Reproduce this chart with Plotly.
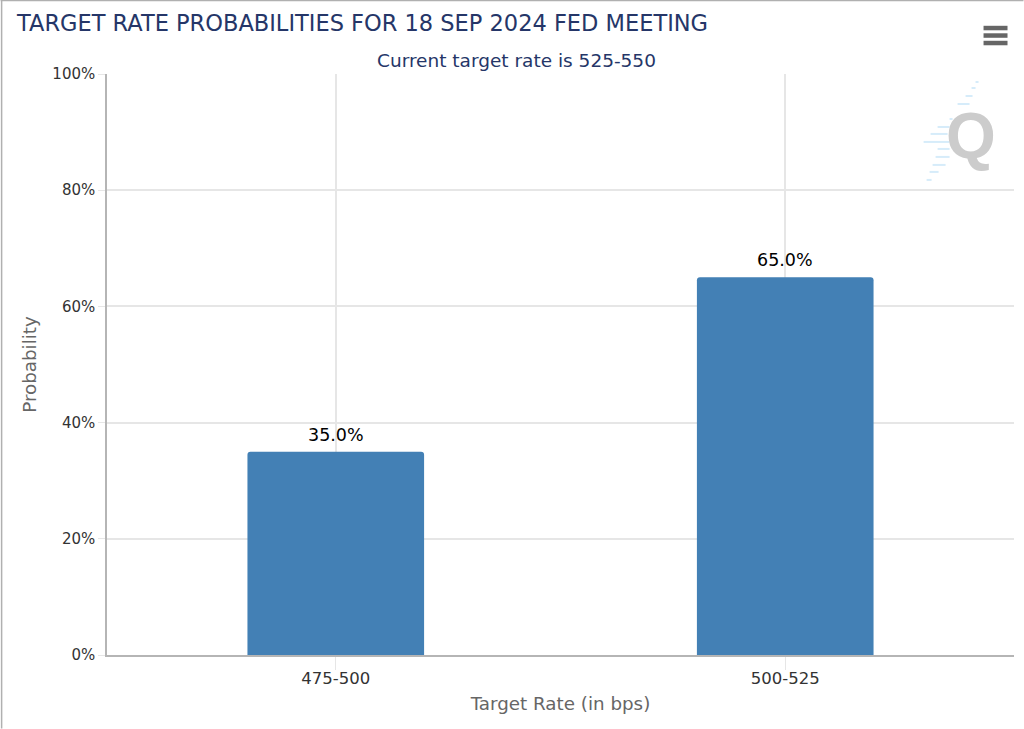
import plotly.graph_objects as go

categories = ['475-500', '500-525']
probabilities = [35.0, 65.0]
y_ticks = [0, 20, 40, 60, 80, 100]
y_tick_labels = ['0%', '20%', '40%', '60%', '80%', '100%']

W, H = 1024, 729
L, R, T, B = 106.5, 1014.5, 74, 655.5
FONT = 'DejaVu Sans'
GRID = '#E6E6E6'
AXIS = '#B5B5B5'


def px(x):
    return (x - L) / (R - L)


def py(y):
    return (B - y) / (B - T)


fig = go.Figure()

fig.add_trace(go.Bar(
    x=categories,
    y=probabilities,
    width=0.393,
    marker=dict(color='#4380B5', line=dict(width=0), cornerradius=3),
    hoverinfo='x+y',
    showlegend=False,
))

shapes = []
# window border
shapes.append(dict(type='line', xref='paper', yref='paper', x0=px(0), x1=px(W), y0=py(0.5), y1=py(0.5),
                   line=dict(color='#B0B0B0', width=1.5)))
shapes.append(dict(type='line', xref='paper', yref='paper', x0=px(1), x1=px(1), y0=py(0), y1=py(H),
                   line=dict(color='#B0B0B0', width=1.5)))
# menu icon
for yy in [28, 35.5, 43]:
    shapes.append(dict(type='line', xref='paper', yref='paper', x0=px(984), x1=px(1008), y0=py(yy), y1=py(yy),
                       line=dict(color='#666666', width=4.5)))
# streaks behind the Q
streaks = [(976, 979, 82), (972, 976, 88), (966, 973, 96), (958, 970, 104), (950, 953, 119), (938, 950, 127),
           (931, 948, 134), (924, 950, 142), (938, 950, 149), (936, 950, 157), (933, 946, 165), (930, 939, 172),
           (927, 932, 180)]
for x0, x1, yy in streaks:
    shapes.append(dict(type='line', xref='paper', yref='paper', x0=px(x0), x1=px(x1), y0=py(yy), y1=py(yy),
                       layer='below', line=dict(color='#D6ECFA', width=2)))

annotations = [
    dict(text='TARGET RATE PROBABILITIES FOR 18 SEP 2024 FED MEETING', xref='paper', yref='paper',
         x=px(13), y=py(23), xanchor='left', yanchor='middle', showarrow=False,
         font=dict(family=FONT, size=22.5, color='#253668')),
    dict(text='Current target rate is 525-550', xref='paper', yref='paper',
         x=px(516), y=py(60), xanchor='center', yanchor='middle', showarrow=False,
         font=dict(family=FONT, size=18.5, color='#253668')),
    dict(text='<b>Q</b>', xref='paper', yref='paper',
         x=px(971), y=py(136), xanchor='center', yanchor='middle', showarrow=False,
         font=dict(family='Liberation Sans', size=64, color='#CCCCCC')),
]
# value labels sit on the bars
for cat, val in zip(categories, probabilities):
    annotations.append(dict(text='%.1f%%' % val, x=cat, y=val, xref='x', yref='y',
                            xanchor='center', yanchor='bottom', yshift=5, showarrow=False,
                            font=dict(family=FONT, size=17.5, color='#000000')))

fig.update_layout(
    width=W,
    height=H,
    margin=dict(l=L, r=W - R, t=T, b=H - B, pad=0),
    paper_bgcolor='#FFFFFF',
    plot_bgcolor='#FFFFFF',
    font=dict(family=FONT, size=15, color='#333333'),
    shapes=shapes,
    annotations=annotations,
    xaxis=dict(
        type='category',
        range=[-0.509, 1.509],
        showgrid=True,
        gridcolor=GRID,
        gridwidth=1.5,
        showline=True,
        linecolor=AXIS,
        linewidth=1.5,
        ticks='outside',
        ticklen=13,
        tickcolor=GRID,
        ticklabelstandoff=-6,
        tickfont=dict(family=FONT, size=16.5, color='#333333'),
        title=dict(text='Target Rate (in bps)', standoff=11,
                   font=dict(family=FONT, size=18.3, color='#666666')),
    ),
    yaxis=dict(
        range=[0, 100],
        tickvals=y_ticks,
        ticktext=y_tick_labels,
        showgrid=True,
        gridcolor=GRID,
        gridwidth=1.5,
        zeroline=False,
        showline=True,
        linecolor=AXIS,
        linewidth=1.5,
        ticks='outside',
        ticklen=7,
        tickcolor=GRID,
        tickfont=dict(family=FONT, size=15, color='#333333'),
        title=dict(text='Probability', standoff=11,
                   font=dict(family=FONT, size=18.3, color='#666666')),
    ),
)

fig.write_html("out.html", config=dict(displayModeBar=False),
               post_script="document.body.style.margin='0';")
